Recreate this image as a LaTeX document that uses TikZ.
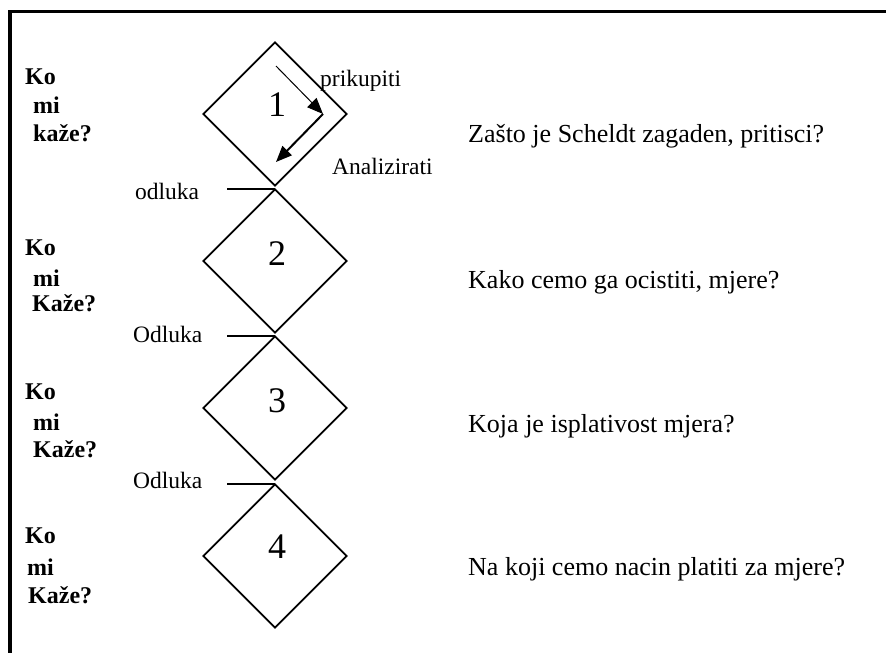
\documentclass[tikz,border=0pt]{standalone}
\usepackage{fontspec}
\setmainfont{Liberation Serif}
\usetikzlibrary{shapes.geometric,arrows.meta}
\begin{document}
\begin{tikzpicture}[x=1pt,y=-1pt,
  stage/.style={diamond,draw,line width=1.8pt,minimum width=144pt,
    minimum height=144pt,inner sep=0pt,aspect=1},
  num/.style={font=\fontsize{36}{42}\selectfont,inner sep=0pt},
  txt/.style={font=\fontsize{23.5}{28}\selectfont,anchor=base west,inner sep=0pt},
  ask/.style={font=\fontsize{26}{30}\selectfont,anchor=base west,inner sep=0pt},
  who/.style={font=\fontsize{24}{28}\selectfont\bfseries,anchor=base west,inner sep=0pt},
  tick/.style={line width=1.8pt},
  flow/.style={-{Triangle[length=16pt,width=13pt]}}]
\useasboundingbox (0,0) rectangle (886,653);
% frame
\draw[line width=3.3pt] (10,653) -- (10,11.5) -- (886,11.5);

% the four stages
\node[stage] (d1) at (275,114) {};
\node[stage] (d2) at (275,261) {};
\node[stage] (d3) at (275,408) {};
\node[stage] (d4) at (275,556) {};
\node[num] (n1) at (277,105) {1};
\node[num] (n2) at (277,254) {2};
\node[num] (n3) at (277,401) {3};
\node[num] (n4) at (277,547) {4};

% collect / analyse loop in stage 1
\coordinate (a0) at (276,66);
\coordinate (a1) at (323,114);
\coordinate (a2) at (276,162);
\draw[flow,line width=1pt] (a0) -- (a1);
\draw[flow,line width=2pt] (a1) -- (a2);
\node[txt] (pk) at (320,86) {prikupiti};
\node[txt] (an) at (332,174) {Analizirati};

% decisions between stages
\coordinate (o1) at (227,189);
\coordinate (o2) at (227,336);
\coordinate (o3) at (227,484);
\draw[tick] (o1) -- (o1 -| d1.south);
\draw[tick] (o2) -- (o2 -| d2.south);
\draw[tick] (o3) -- (o3 -| d3.south);
\node[txt] (l1) at (135,199) {odluka};
\node[txt] (l2) at (133,342) {Odluka};
\node[txt] (l3) at (133,488) {Odluka};

% who tells us
\node[who] (k1a) at (25,84) {Ko};
\node[who] (k1b) at (33,113) {mi};
\node[who] (k1c) at (33,141) {kaže?};
\node[who] (k2a) at (25,255) {Ko};
\node[who] (k2b) at (33,286) {mi};
\node[who] (k2c) at (32,311) {Kaže?};
\node[who] (k3a) at (25,399) {Ko};
\node[who] (k3b) at (33,430) {mi};
\node[who] (k3c) at (33,457) {Kaže?};
\node[who] (k4a) at (25,543) {Ko};
\node[who] (k4b) at (27,575) {mi};
\node[who] (k4c) at (28,603) {Kaže?};

% questions
\node[ask] (q1) at (468,142) {Zašto je Scheldt zagaden, pritisci?};
\node[ask] (q2) at (468,288) {Kako cemo ga ocistiti, mjere?};
\node[ask] (q3) at (468,432) {Koja je isplativost mjera?};
\node[ask] (q4) at (468,575) {Na koji cemo nacin platiti za mjere?};
\end{tikzpicture}
\end{document}
